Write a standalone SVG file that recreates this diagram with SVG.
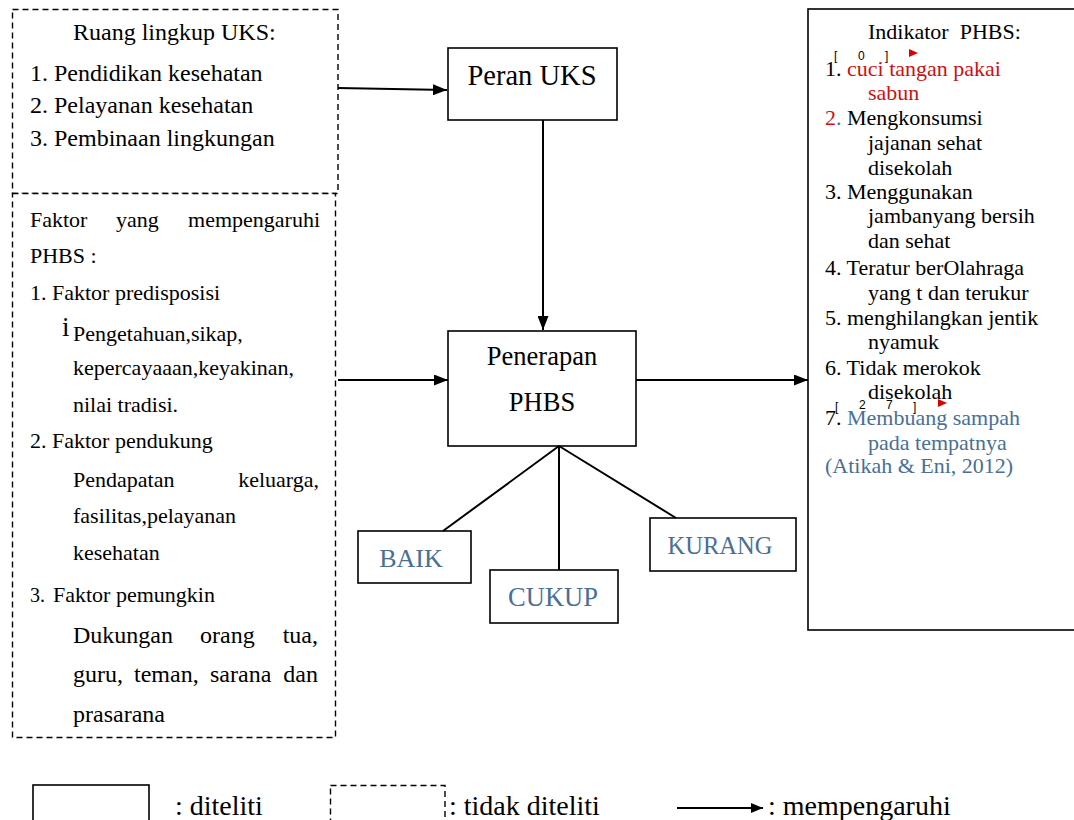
<svg xmlns="http://www.w3.org/2000/svg" width="1074" height="820" viewBox="0 0 1074 820">
<style>
text{font-family:"Liberation Serif","Times New Roman",serif;fill:#000}
.box{fill:#fff;stroke:#000;stroke-width:1.6}
.dash{fill:#fff;stroke:#000;stroke-width:1.4;stroke-dasharray:6 4}
.con{stroke:#000;stroke-width:2;fill:none}
.t24{font-size:24px}
.t22{font-size:22px}
.red{fill:#cc1111}
.blue{fill:#4a6f95}
.mk{font-family:"Liberation Sans",Arial,sans-serif;font-size:12px}
</style>
<defs>
<marker id="ah" markerUnits="userSpaceOnUse" markerWidth="15" markerHeight="11" refX="14" refY="5.5" orient="auto">
<path d="M0,0 L14,5.5 L0,11 z" fill="#000"/>
</marker>
<marker id="ahs" markerUnits="userSpaceOnUse" markerWidth="13" markerHeight="10" refX="12" refY="5" orient="auto">
<path d="M0,0 L12,5 L0,10 z" fill="#000"/>
</marker>
</defs>
<rect width="1074" height="820" fill="#fff"/>

<g id="ruang-lingkup">
<rect class="dash" x="12.5" y="9.5" width="325.5" height="184"/>
<text class="t24" x="73" y="40">Ruang lingkup UKS:</text>
<text class="t24" x="30" y="81">1. Pendidikan kesehatan</text>
<text class="t24" x="30" y="113">2. Pelayanan kesehatan</text>
<text class="t24" x="30" y="146">3. Pembinaan lingkungan</text>
</g>

<g id="faktor">
<rect class="dash" x="12.5" y="193.5" width="323" height="544"/>
<text class="t22" x="30" y="227">Faktor</text>
<text class="t22" x="116" y="227">yang</text>
<text class="t22" x="320" y="227" text-anchor="end">mempengaruhi</text>
<text class="t22" x="30" y="263">PHBS :</text>
<text class="t22" x="30" y="300">1. Faktor predisposisi</text>
<text x="62" y="336" font-size="27">i</text>
<text class="t22" x="73" y="341">Pengetahuan,sikap,</text>
<text class="t22" x="73" y="375">kepercayaaan,keyakinan,</text>
<text class="t22" x="73" y="412">nilai tradisi.</text>
<text class="t22" x="30" y="448">2. Faktor pendukung</text>
<text class="t22" x="73" y="487">Pendapatan</text>
<text class="t22" x="319" y="487" text-anchor="end">keluarga,</text>
<text class="t22" x="73" y="523">fasilitas,pelayanan</text>
<text class="t22" x="73" y="560">kesehatan</text>
<text x="30" y="602" font-size="20" font-family="Liberation Sans, Arial, sans-serif">3.</text>
<text class="t22" x="53" y="602">Faktor pemungkin</text>
<text class="t24" x="73" y="643">Dukungan</text>
<text class="t24" x="200" y="643">orang</text>
<text class="t24" x="318" y="643" text-anchor="end">tua,</text>
<text class="t24" x="73" y="682">guru,</text>
<text class="t24" x="134" y="682">teman,</text>
<text class="t24" x="210" y="682">sarana</text>
<text class="t24" x="318" y="682" text-anchor="end">dan</text>
<text class="t24" x="73" y="722">prasarana</text>
</g>

<g id="peran-uks">
<rect class="box" x="448" y="48" width="169" height="72"/>
<text x="532" y="85" font-size="28.5" text-anchor="middle">Peran UKS</text>
</g>

<g id="penerapan-phbs">
<rect class="box" x="448" y="331" width="188" height="115"/>
<text x="542" y="365" font-size="26.5" text-anchor="middle">Penerapan</text>
<text x="542" y="411" font-size="26.5" text-anchor="middle">PHBS</text>
</g>

<g id="baik">
<rect class="box" x="358" y="531" width="113" height="52"/>
<text class="blue" x="411" y="567" font-size="26" text-anchor="middle">BAIK</text>
</g>

<g id="cukup">
<rect class="box" x="490" y="570" width="128" height="53"/>
<text class="blue" x="553" y="606" font-size="26.5" text-anchor="middle">CUKUP</text>
</g>

<g id="kurang">
<rect class="box" x="650" y="518" width="146" height="53"/>
<text class="blue" x="720" y="554" font-size="24.5" text-anchor="middle">KURANG</text>
</g>

<g id="indikator">
<rect class="box" x="808" y="9" width="290" height="621"/>
<text class="t22" x="868" y="39" xml:space="preserve">Indikator  PHBS:</text>
<text class="mk" x="834" y="60">[</text>
<text class="mk" x="858" y="60">0</text>
<text class="mk" x="885" y="60">]</text>
<path d="M909,49 L918,53 L909,57 z" fill="#dd0000"/>
<text class="t22" x="825" y="76">1.</text>
<text class="t22 red" x="847" y="76">cuci tangan pakai</text>
<text class="t22 red" x="868" y="100">sabun</text>
<text class="t22" x="825" y="125"><tspan class="red">2</tspan><tspan class="blue">.</tspan> Mengkonsumsi</text>
<text class="t22" x="868" y="150">jajanan sehat</text>
<text class="t22" x="868" y="175">disekolah</text>
<text class="t22" x="825" y="199">3. Menggunakan</text>
<text class="t22" x="868" y="223">jambanyang bersih</text>
<text class="t22" x="868" y="248">dan sehat</text>
<text class="t22" x="825" y="275">4. Teratur berOlahraga</text>
<text class="t22" x="868" y="300">yang t dan terukur</text>
<text class="t22" x="825" y="325">5. menghilangkan jentik</text>
<text class="t22" x="868" y="349">nyamuk</text>
<text class="t22" x="825" y="375">6. Tidak merokok</text>
<text class="t22" x="868" y="399">disekolah</text>
<text class="mk" x="835" y="411">[</text>
<text class="mk" x="859" y="409">2</text>
<text class="mk" x="886" y="409">7</text>
<text class="mk" x="913" y="411">]</text>
<path d="M938,399 L947,403 L938,407 z" fill="#dd0000"/>
<text class="t22" x="825" y="425">7.</text>
<text class="t22 blue" x="847" y="425">Membuang sampah</text>
<text class="t22 blue" x="868" y="450">pada tempatnya</text>
<text class="t22 blue" x="825" y="473">(Atikah &amp; Eni, 2012)</text>
</g>

<g id="connectors">
<line class="con" x1="338" y1="88" x2="447" y2="90" marker-end="url(#ah)"/>
<line class="con" x1="543" y1="120" x2="543" y2="330" marker-end="url(#ah)"/>
<line class="con" x1="338" y1="380" x2="448" y2="380" marker-end="url(#ah)"/>
<line class="con" x1="636" y1="380" x2="808" y2="380" marker-end="url(#ah)"/>
<line class="con" x1="559" y1="446" x2="443" y2="531"/>
<line class="con" x1="559" y1="446" x2="559" y2="570"/>
<line class="con" x1="559" y1="446" x2="676" y2="518"/>
</g>

<g id="legend">
<rect class="box" x="33" y="785" width="116" height="40"/>
<text x="175" y="815" font-size="28">: diteliti</text>
<rect class="dash" x="330.5" y="785.5" width="114.5" height="40"/>
<text x="449" y="815" font-size="28">: tidak diteliti</text>
<line class="con" x1="677" y1="808" x2="763" y2="808" marker-end="url(#ahs)"/>
<text x="768" y="815" font-size="28">: mempengaruhi</text>
</g>
</svg>
